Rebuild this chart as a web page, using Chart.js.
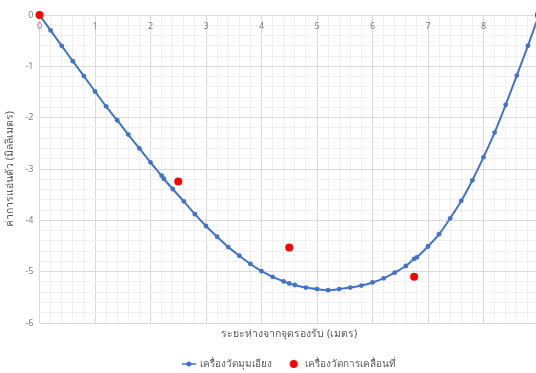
<!DOCTYPE html>
<html>
<head>
<meta charset="utf-8">
<script src="https://cdn.jsdelivr.net/npm/chart.js@4"></script>
<style>
html,body{margin:0;padding:0;background:#fff;overflow:hidden;width:536px;height:373px;}
#wrap{position:absolute;left:0;top:0;width:545px;height:373px;}
</style>
</head>
<body>
<div id="wrap"><canvas id="c" width="545" height="373"></canvas></div>
<script>
// ---- data ----
const inclinometerX = [0,0.2,0.4,0.6,0.8,1.0,1.2,1.4,1.6,1.8,2.0,2.2,2.24,2.4,2.6,2.8,3.0,3.2,3.4,3.6,3.8,4.0,4.2,4.4,4.5,4.6,4.8,5.0,5.2,5.4,5.6,5.8,6.0,6.2,6.4,6.6,6.75,6.8,7.0,7.2,7.4,7.6,7.8,8.0,8.2,8.4,8.6,8.8,9.0];
const inclinometerY = [0,-0.30,-0.60,-0.90,-1.19,-1.49,-1.78,-2.05,-2.33,-2.60,-2.87,-3.13,-3.19,-3.39,-3.63,-3.88,-4.11,-4.32,-4.52,-4.69,-4.85,-4.99,-5.10,-5.19,-5.23,-5.26,-5.31,-5.34,-5.36,-5.34,-5.31,-5.27,-5.21,-5.13,-5.02,-4.89,-4.75,-4.72,-4.51,-4.27,-3.96,-3.62,-3.22,-2.77,-2.29,-1.75,-1.18,-0.60,0];
const displacementX = [0,2.5,4.5,6.75,9.0];
const displacementY = [0,-3.245,-4.53,-5.10,0];
const xTickLabels = [0,1,2,3,4,5,6,7,8];
const seriesNames = ['เครื่องวัดมุมเอียง','เครื่องวัดการเคลื่อนที่'];
const xTitle = 'ระยะห่างจากจุดรองรับ (เมตร)';
const yTitle = 'ค่าการแอ่นตัว (มิลลิเมตร)';

const BLUE = '#4472C4', RED = '#FF0000';
const FONT = "'Noto Sans', 'DejaVu Sans', sans-serif";

function toPoints(xs, ys){ return xs.map((x,i)=>({x:x, y:ys[i]})); }

// legend symbols
function lineMarker(){
  const c = document.createElement('canvas'); c.width = 14; c.height = 8;
  const g = c.getContext('2d');
  g.strokeStyle = BLUE; g.lineWidth = 1.5;
  g.beginPath(); g.moveTo(0,4); g.lineTo(14,4); g.stroke();
  g.fillStyle = BLUE; g.beginPath(); g.arc(7,4,2.5,0,Math.PI*2); g.fill();
  return c;
}
function dotMarker(){
  const c = document.createElement('canvas'); c.width = 10; c.height = 10;
  const g = c.getContext('2d');
  g.fillStyle = RED; g.beginPath(); g.arc(5,5,4,0,Math.PI*2); g.fill();
  return c;
}
const legendSyms = [lineMarker(), dotMarker()];

function isMajor(v){ return Math.abs(v - Math.round(v)) < 1e-6; }

const topLabels = {
  id: 'topLabels',
  beforeDatasetsDraw(chart){
    const {ctx} = chart; const xs = chart.scales.x, ys = chart.scales.y;
    ctx.save();
    ctx.font = '9px ' + FONT;
    ctx.fillStyle = '#808080';
    ctx.textAlign = 'center';
    ctx.textBaseline = 'middle';
    xTickLabels.forEach(v => ctx.fillText(String(v), xs.getPixelForValue(v), ys.getPixelForValue(0) + 11));
    ctx.restore();
  }
};

new Chart(document.getElementById('c'), {
  type: 'scatter',
  data: {
    datasets: [
      {
        label: seriesNames[0],
        data: toPoints(inclinometerX, inclinometerY),
        showLine: true,
        borderColor: BLUE,
        backgroundColor: BLUE,
        borderWidth: 2,
        pointRadius: 2.4,
        pointBorderWidth: 0,
        pointHoverRadius: 2.4,
        tension: 0.25,
        clip: false,
        order: 1
      },
      {
        label: seriesNames[1],
        data: toPoints(displacementX, displacementY),
        showLine: false,
        borderColor: RED,
        backgroundColor: RED,
        pointRadius: 4,
        pointBorderWidth: 0,
        pointHoverRadius: 4,
        clip: false,
        order: 0
      }
    ]
  },
  options: {
    responsive: false,
    animation: false,
    events: [],
    layout: { padding: { top: 15, right: 6, left: 0, bottom: -6 } },
    plugins: {
      tooltip: { enabled: false },
      legend: {
        position: 'bottom',
        fullSize: false,
        labels: {
          usePointStyle: true,
          pointStyleWidth: 12,
          padding: 8,
          color: '#595959',
          font: { family: FONT, size: 10 },
          generateLabels(){
            return seriesNames.map((n,i)=>({
              text: i === 0 ? n + '   ' : n,
              pointStyle: legendSyms[i],
              fillStyle: i === 0 ? BLUE : RED,
              strokeStyle: i === 0 ? BLUE : RED,
              lineWidth: 0,
              hidden: false,
              datasetIndex: i,
              fontColor: '#595959'
            }));
          }
        }
      }
    },
    scales: {
      x: {
        type: 'linear',
        position: 'bottom',
        min: 0, max: 9,
        ticks: { display: false, stepSize: 0.2, maxTicksLimit: 1000 },
        grid: {
          drawTicks: false,
          color: ctx => isMajor(ctx.tick.value) ? '#d9d9d9' : '#f0f0f0',
          lineWidth: 1
        },
        border: { display: false },
        title: {
          display: true,
          text: xTitle,
          color: '#595959',
          font: { family: FONT, size: 10.5 },
          padding: { top: 6, bottom: 11 }
        },
        afterFit(s){ s.height = 28; }
      },
      y: {
        type: 'linear',
        min: -6, max: 0,
        ticks: {
          stepSize: 0.2,
          maxTicksLimit: 1000,
          autoSkip: false,
          padding: 6,
          color: '#808080',
          font: { family: FONT, size: 9 },
          callback: v => isMajor(v) ? String(Math.round(v)) : ''
        },
        grid: {
          drawTicks: false,
          color: ctx => isMajor(ctx.tick.value) ? '#d9d9d9' : '#f0f0f0',
          lineWidth: 1
        },
        border: { display: false },
        title: {
          display: true,
          text: yTitle,
          color: '#595959',
          font: { family: FONT, size: 10.5 },
          padding: { top: 4, bottom: 0 }
        },
        afterFit(s){ s.width = 39.5; }
      }
    }
  },
  plugins: [topLabels]
});
</script>
</body>
</html>
